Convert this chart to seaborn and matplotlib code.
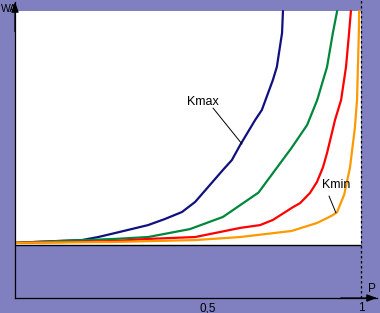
import matplotlib
matplotlib.use('Agg')
import matplotlib.pyplot as plt
from matplotlib.lines import Line2D
import pandas as pd
import seaborn as sns

# ---- data (P on x, WA on y) ----
kmax_p  = [-0.131, 0.007, 0.088, 0.141, 0.196, 0.304, 0.359, 0.415, 0.458, 0.549, 0.578, 0.605, 0.654, 0.676, 0.712, 0.725, 0.742, 0.745]
kmax_wa = [0.009, 0.017, 0.021, 0.034, 0.051, 0.085, 0.111, 0.141, 0.184, 0.321, 0.363, 0.427, 0.534, 0.577, 0.705, 0.761, 0.906, 1.0]

k2_p  = [-0.131, -0.065, 0.196, 0.304, 0.441, 0.549, 0.665, 0.773, 0.824, 0.857, 0.889, 0.908, 0.922]
k2_wa = [0.009, 0.013, 0.026, 0.034, 0.068, 0.120, 0.224, 0.415, 0.513, 0.620, 0.761, 0.906, 1.0]

k3_p  = [-0.131, 0.049, 0.196, 0.304, 0.458, 0.605, 0.670, 0.712, 0.778, 0.801, 0.833, 0.856, 0.876, 0.889, 0.905, 0.915, 0.935, 0.951, 0.961, 0.967]
k3_wa = [0.009, 0.013, 0.017, 0.026, 0.034, 0.073, 0.085, 0.107, 0.162, 0.179, 0.222, 0.269, 0.333, 0.393, 0.479, 0.534, 0.620, 0.761, 0.906, 1.0]

kmin_p  = [-0.131, 0.196, 0.458, 0.605, 0.773, 0.856, 0.889, 0.908, 0.922, 0.945, 0.964, 0.980, 0.987, 0.993, 0.994]
kmin_wa = [0.009, 0.013, 0.021, 0.034, 0.060, 0.094, 0.115, 0.128, 0.141, 0.215, 0.331, 0.500, 0.620, 0.906, 1.0]

curve_names = ['Kmax', 'K2', 'K3', 'Kmin']
curve_colors = ['#10107F', '#00873C', '#FF0000', '#FF9900']
tick_vals = [0.5, 1.0]
tick_labels = ['0,5', '1']

df = pd.concat([
    pd.DataFrame({'P': kmax_p, 'WA': kmax_wa, 'curve': 'Kmax'}),
    pd.DataFrame({'P': k2_p, 'WA': k2_wa, 'curve': 'K2'}),
    pd.DataFrame({'P': k3_p, 'WA': k3_wa, 'curve': 'K3'}),
    pd.DataFrame({'P': kmin_p, 'WA': kmin_wa, 'curve': 'Kmin'}),
], ignore_index=True)

sns.set_theme(style='white')
plt.rcParams['font.family'] = ['Liberation Sans', 'DejaVu Sans']

BG = '#8080C0'
W, H = 380, 313
fig = plt.figure(figsize=(W / 100, H / 100), dpi=100, facecolor=BG)
ax = fig.add_axes([15 / W, (H - 298) / H, 362 / W, 296 / H])
ax.set_facecolor(BG)
x0, x1 = -0.1307, 1.0523
ax.set_xlim(x0, x1)
ax.set_ylim(-0.2265, 1.0385)

ax.fill_between([x0, 1.0], 0, 1, color='white', lw=0, zorder=0)
ax.hlines(0, x0, 1.0, color='black', lw=1.0, zorder=1)

sns.lineplot(data=df, x='P', y='WA', hue='curve', hue_order=curve_names,
             palette=curve_colors, estimator=None, sort=False, legend=False,
             lw=1.6, ax=ax, zorder=2, solid_joinstyle='round')

ax.axvline(1.0, ymin=0, ymax=1.01, color='black', lw=0.9, ls=(0, (2, 2)), zorder=3, clip_on=False)

for s in ['top', 'right']:
    ax.spines[s].set_visible(False)
for s in ['left', 'bottom']:
    ax.spines[s].set_color('black')
    ax.spines[s].set_linewidth(0.9)

ax.set_xticks(tick_vals)
ax.set_xticklabels(tick_labels, fontsize=8.5)
ax.set_yticks([])
ax.tick_params(axis='x', length=0, pad=3, colors='black')
ax.set_xlabel('')
ax.set_ylabel('')

# axis arrows
arrow = dict(arrowstyle='-|>,head_length=0.6,head_width=0.22', color='black',
             lw=0.9, shrinkA=0, shrinkB=0, mutation_scale=10)
ax.annotate('', xy=(0, 1.0), xytext=(0, 0.9), xycoords='axes fraction', arrowprops=arrow)
ax.annotate('', xy=(1.0, 0), xytext=(0.9, 0), xycoords='axes fraction', arrowprops=arrow)

# labels
fig.text(1 / W, 1 - 12 / H, 'WA', fontsize=7.5, va='baseline', ha='left', color='black')
fig.text(368 / W, 1 - 292 / H, 'P', fontsize=8.5, va='baseline', ha='left', color='black')
fig.text(187 / W, 1 - 105 / H, 'Kmax', fontsize=9, va='baseline', ha='left', color='black')
fig.text(322 / W, 1 - 188 / H, 'Kmin', fontsize=9, va='baseline', ha='left', color='black')

fig.add_artist(Line2D([213 / W, 242 / W], [1 - 108 / H, 1 - 144 / H], color='black', lw=0.7))
fig.add_artist(Line2D([329 / W, 336 / W], [1 - 196 / H, 1 - 213 / H], color='black', lw=0.7))

fig.savefig('out.png', dpi=100, facecolor=BG)
